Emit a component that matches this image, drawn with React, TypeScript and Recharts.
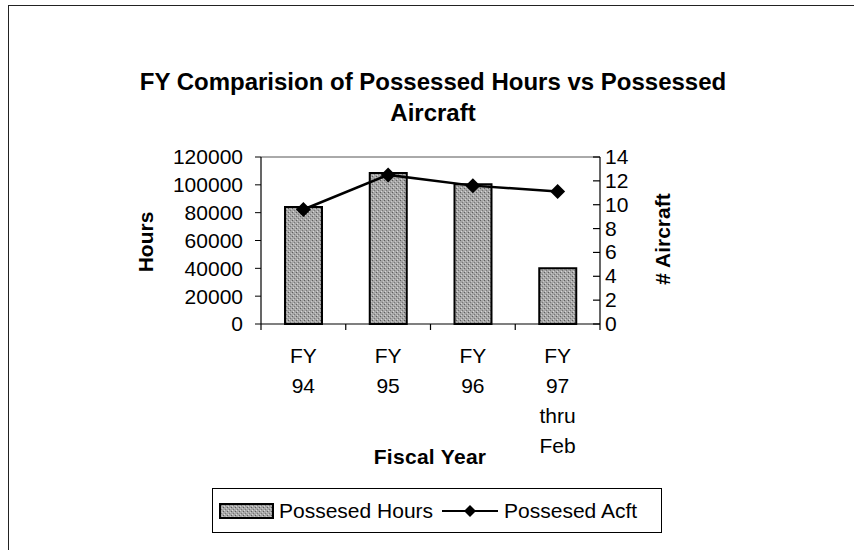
import React from "react";
import { ComposedChart, Bar, Line, XAxis, YAxis, ReferenceLine } from "recharts";

const categories = ["FY 94", "FY 95", "FY 96", "FY 97 thru Feb"];
const possessedHours = [84000, 108500, 100500, 40000];
const possessedAcft = [9.6, 12.5, 11.6, 11.1];
const hoursTicks = [0, 20000, 40000, 60000, 80000, 100000, 120000];
const acftTicks = [0, 2, 4, 6, 8, 10, 12, 14];

const data = categories.map((c, i) => ({ cat: c, hours: possessedHours[i], acft: possessedAcft[i] }));

const FONT = "'Liberation Sans', Arial, sans-serif";
const W = 854;
const H = 550;
const LEFT_W = 261;
const RIGHT_W = 254;
const BAND = (W - LEFT_W - RIGHT_W) / categories.length;

const XTick = (props: any) => {
  const { x, y, payload, index } = props;
  const lines = String(payload.value).split(" ");
  return (
    <g>
      <line x1={x - BAND / 2} y1={y} x2={x - BAND / 2} y2={y + 6} stroke="#000" strokeWidth={1.2} />
      {index === categories.length - 1 && (
        <line x1={x + BAND / 2} y1={y} x2={x + BAND / 2} y2={y + 6} stroke="#000" strokeWidth={1.2} />
      )}
      <text x={x} y={y} textAnchor="middle" fontFamily={FONT} fontSize={21} fill="#000">
        {lines.map((l, i) => (
          <tspan key={i} x={x} dy={i === 0 ? 39 : 30}>
            {l}
          </tspan>
        ))}
      </text>
    </g>
  );
};

const RightTick = (props: any) => {
  const { x, y, payload } = props;
  return (
    <g>
      <line x1={x - 12} y1={y} x2={x - 5} y2={y} stroke="#000" strokeWidth={1.2} />
      <text x={x} y={y} dy={7} textAnchor="start" fontFamily={FONT} fontSize={21} fill="#000">
        {payload.value}
      </text>
    </g>
  );
};

const Diamond = (props: any) => {
  const { cx, cy } = props;
  if (cx == null || cy == null) return null;
  const r = 7.5;
  return <path d={`M${cx},${cy - r}L${cx + r},${cy}L${cx},${cy + r}L${cx - r},${cy}Z`} fill="#000" />;
};

export default function App() {
  return (
    <div style={{ position: "absolute", left: 0, top: 0, width: W, height: H, overflow: "hidden", background: "#fff", fontFamily: FONT }}>
      <div style={{ position: "absolute", left: 8, top: 5, width: 900, height: 600, borderLeft: "1.5px solid #222", borderTop: "1.5px solid #222" }} />
      <ComposedChart width={W} height={H} data={data} margin={{ top: 157, right: 0, bottom: 0, left: 0 }}>
        <defs>
          <pattern id="stipple" width="4" height="4" patternUnits="userSpaceOnUse">
            <rect width="4" height="4" fill="#a6a6a6" />
            <rect x="0" y="0" width="1" height="1" fill="#5e5e5e" />
            <rect x="2" y="2" width="1" height="1" fill="#777" />
            <rect x="1" y="3" width="1" height="1" fill="#d6d6d6" />
            <rect x="3" y="1" width="1" height="1" fill="#c8c8c8" />
          </pattern>
        </defs>
        <XAxis
          dataKey="cat"
          height={226}
          interval={0}
          tickLine={false}
          tickSize={0}
          tickMargin={0}
          axisLine={{ stroke: "#000", strokeWidth: 1.2 }}
          tick={<XTick />}
        />
        <YAxis
          yAxisId="left"
          width={LEFT_W}
          domain={[0, 120000]}
          ticks={hoursTicks}
          interval={0}
          tickSize={6}
          tickMargin={12}
          axisLine={{ stroke: "#000", strokeWidth: 1.2 }}
          tickLine={{ stroke: "#000" }}
          tick={{ fill: "#000", fontSize: 21, fontFamily: FONT }}
        />
        <YAxis
          yAxisId="right"
          orientation="right"
          width={RIGHT_W}
          domain={[0, 14]}
          ticks={acftTicks}
          interval={0}
          tickSize={0}
          tickMargin={5}
          tickLine={false}
          axisLine={{ stroke: "#000", strokeWidth: 1.2 }}
          tick={<RightTick />}
        />
        <ReferenceLine yAxisId="left" y={120000} stroke="#555" strokeWidth={1} />
        <Bar yAxisId="left" dataKey="hours" barSize={37} fill="url(#stipple)" stroke="#000" strokeWidth={2} isAnimationActive={false} />
        <Line yAxisId="right" dataKey="acft" stroke="#000" strokeWidth={2.5} dot={<Diamond />} activeDot={false} isAnimationActive={false} />
      </ComposedChart>

      <div style={{ position: "absolute", left: 6, top: 66, width: W, textAlign: "center", fontSize: 24, fontWeight: "bold", lineHeight: "31px" }}>
        FY Comparision of Possessed Hours vs Possessed
        <br />
        Aircraft
      </div>
      <div style={{ position: "absolute", left: 146, top: 242, transform: "translate(-50%,-50%) rotate(-90deg)", fontSize: 21, fontWeight: "bold", whiteSpace: "nowrap" }}>
        Hours
      </div>
      <div style={{ position: "absolute", left: 663, top: 239, transform: "translate(-50%,-50%) rotate(-90deg)", fontSize: 21, fontWeight: "bold", whiteSpace: "nowrap" }}>
        # Aircraft
      </div>
      <div style={{ position: "absolute", left: 430, top: 457, transform: "translate(-50%,-50%)", fontSize: 21, fontWeight: "bold", whiteSpace: "nowrap", letterSpacing: 0.3 }}>
        Fiscal Year
      </div>
      <div style={{ position: "absolute", left: 212, top: 488, width: 450, height: 45, boxSizing: "border-box", border: "1.2px solid #000", display: "flex", alignItems: "center", paddingLeft: 6, fontSize: 21, whiteSpace: "nowrap" }}>
        <svg width={55} height={16} style={{ marginRight: 5 }}>
          <rect x={1} y={1} width={53} height={14} fill="url(#stipple)" stroke="#000" strokeWidth={2} />
        </svg>
        <span>Possesed Hours</span>
        <svg width={56} height={16} style={{ margin: "0 6px 0 9px" }}>
          <line x1={0} y1={8} x2={56} y2={8} stroke="#000" strokeWidth={2} />
          <path d="M28,2L34,8L28,14L22,8Z" fill="#000" />
        </svg>
        <span>Possesed Acft</span>
      </div>
    </div>
  );
}
